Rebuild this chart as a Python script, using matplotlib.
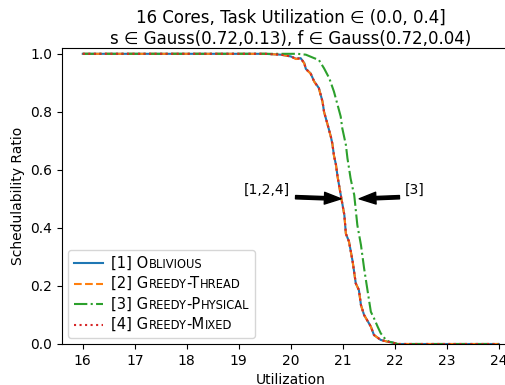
import matplotlib
matplotlib.use("Agg")
import matplotlib.pyplot as plt
from matplotlib.offsetbox import AnchoredOffsetbox, HPacker, VPacker, TextArea, DrawingArea
from matplotlib.lines import Line2D

# utilization values (curves 1, 2, 4 share them)
util_a = [16, 19.5, 19.81, 20.0, 20.1, 20.19, 20.26, 20.29, 20.38, 20.45, 20.54, 20.61,
          20.64, 20.71, 20.77, 20.8, 20.83, 20.87, 20.9, 20.95, 21.03, 21.06, 21.12,
          21.19, 21.25, 21.31, 21.35, 21.41, 21.54, 21.6, 21.73, 21.86, 21.96, 22.05, 24]
util_b = [16, 20.13, 20.29, 20.45, 20.54, 20.64, 20.74, 20.83, 20.9, 20.96, 20.99, 21.06,
          21.09, 21.12, 21.15, 21.19, 21.22, 21.28, 21.35, 21.41, 21.48, 21.54, 21.6,
          21.67, 21.73, 21.83, 21.89, 21.96, 22.05, 24]

# schedulability ratios
oblivious = [1.0, 1.0, 0.997, 0.991, 0.983, 0.985, 0.968, 0.948, 0.933, 0.905, 0.882, 0.836,
             0.80, 0.755, 0.715, 0.69, 0.65, 0.617, 0.577, 0.525, 0.445, 0.38, 0.353,
             0.284, 0.209, 0.186, 0.134, 0.10, 0.06, 0.031, 0.014, 0.008, 0.005, 0.0, 0.0]
greedy_thread = [1.0, 1.0, 0.997, 0.991, 0.982, 0.984, 0.967, 0.947, 0.932, 0.904, 0.881,
                 0.835, 0.80, 0.755, 0.714, 0.69, 0.65, 0.616, 0.576, 0.524, 0.444, 0.38,
                 0.352, 0.284, 0.209, 0.186, 0.134, 0.10, 0.06, 0.031, 0.014, 0.008, 0.005,
                 0.0, 0.0]
greedy_physical = [1.0, 1.0, 0.997, 0.985, 0.979, 0.95, 0.916, 0.87, 0.824, 0.784, 0.744,
                   0.686, 0.64, 0.606, 0.571, 0.537, 0.514, 0.41, 0.341, 0.261, 0.18, 0.111,
                   0.089, 0.06, 0.037, 0.014, 0.008, 0.005, 0.0, 0.0]
greedy_mixed = [1.0, 1.0, 0.997, 0.991, 0.983, 0.985, 0.968, 0.948, 0.933, 0.905, 0.882, 0.836,
                0.80, 0.755, 0.715, 0.69, 0.65, 0.617, 0.577, 0.525, 0.445, 0.38, 0.353,
                0.284, 0.209, 0.186, 0.134, 0.10, 0.06, 0.031, 0.014, 0.008, 0.005, 0.0, 0.0]

labels = ["[1] Oblivious", "[2] Greedy-Thread", "[3] Greedy-Physical", "[4] Greedy-Mixed"]
colors = ["#1f77b4", "#ff7f0e", "#2ca02c", "#d62728"]
styles = ["-", "--", "-.", ":"]


def smallcaps(label, big=10.6, small=8.3):
    parts = []
    for ch in label:
        size = small if ch.islower() else big
        if parts and parts[-1][1] == size:
            parts[-1][0] += ch.upper()
        else:
            parts.append([ch.upper(), size])
    return HPacker(children=[TextArea(t, textprops=dict(size=s)) for t, s in parts],
                   align="baseline", pad=0, sep=0)


fig = plt.figure(figsize=(5.06, 3.85), dpi=100)
ax = fig.add_axes([0.1225, 0.1065, 0.9043, 0.7688])

xs = [util_a, util_a, util_b, util_a]
series = [oblivious, greedy_thread, greedy_physical, greedy_mixed]
for x, y, c, ls in zip(xs, series, colors, styles):
    ax.plot(x, y, color=c, linestyle=ls, linewidth=1.5)

ax.set_xlim(15.6, 24.4)
ax.set_ylim(0, 1.02)
ax.set_xticks(range(16, 25))
ax.set_yticks([0.0, 0.2, 0.4, 0.6, 0.8, 1.0])
ax.tick_params(labelsize=10)
ax.spines["right"].set_visible(False)
ax.set_xlabel("Utilization", fontsize=10)
ax.set_ylabel("Schedulability Ratio", fontsize=10)
ax.set_title("16 Cores, Task Utilization \u2208 (0.0, 0.4]\n"
             "s \u2208 Gauss(0.72,0.13), f \u2208 Gauss(0.72,0.04)", fontsize=12, pad=3)

arrow = dict(facecolor="black", edgecolor="black", width=2.4, headwidth=8.5,
             headlength=12, shrink=0.05)
ax.annotate("[1,2,4]", xy=(21.02, 0.5), xytext=(19.1, 0.517), fontsize=10,
            arrowprops=arrow)
ax.annotate("[3]", xy=(21.27, 0.5), xytext=(22.19, 0.517), fontsize=10,
            arrowprops=arrow)

# legend with small caps labels
rows = []
for lab, c, ls in zip(labels, colors, styles):
    da = DrawingArea(21, 8, 0, 0)
    da.add_artist(Line2D([0, 21], [4, 4], color=c, linestyle=ls, linewidth=1.5))
    rows.append(HPacker(children=[da, smallcaps(lab)], align="center", pad=0, sep=6))
box = AnchoredOffsetbox(loc="lower left", child=VPacker(children=rows, align="left", pad=0, sep=4),
                        pad=0.4, borderpad=0.45, frameon=True)
box.patch.set_boxstyle("round,pad=0,rounding_size=0.2")
box.patch.set_edgecolor("0.8")
box.patch.set_alpha(0.8)
ax.add_artist(box)

fig.savefig("out.png", dpi=100)
